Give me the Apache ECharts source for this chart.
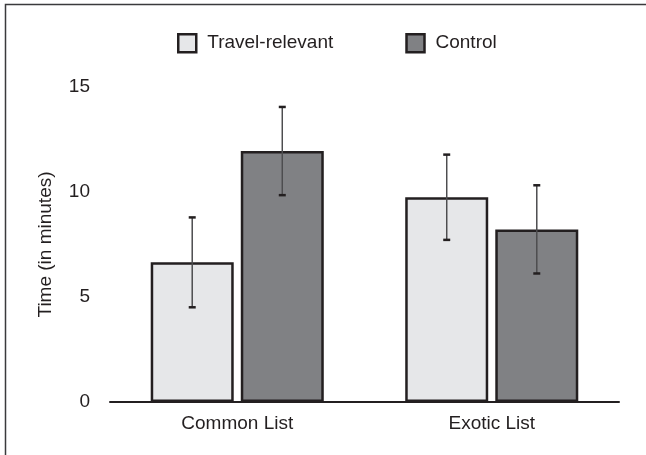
<!DOCTYPE html>
<html>
<head>
<meta charset="utf-8">
<script src="https://cdn.jsdelivr.net/npm/echarts@6/dist/echarts.min.js"></script>
<style>
  html, body { margin: 0; padding: 0; background: #fff; }
  #chart { width: 646px; height: 455px; }
</style>
</head>
<body>
<div id="chart"></div>
<script>
// 数据
const categories = ['Common List', 'Exotic List'];
const seriesNames = ['Travel-relevant', 'Control'];
const travelMean = [6.65, 9.75];
const travelErr = [2.14, 2.03];
const controlMean = [11.95, 8.22];
const controlErr = [2.1, 2.1];
const yTicks = [0, 5, 10, 15];

const barCatGap = 0.32;
const barGapRatio = 0.085;

// 误差线
function errorSeries(means, errs, side) {
    return {
        type: 'custom',
        z: 10,
        data: means.map((m, i) => [i, m - errs[i], m + errs[i]]),
        renderItem: (params, api) => {
            const band = api.size([1, 0])[0];
            const barW = band * (1 - barCatGap) / (2 + barGapRatio);
            const off = side * (barW + barW * barGapRatio) / 2;
            const lo = api.coord([api.value(0), api.value(1)]);
            const hi = api.coord([api.value(0), api.value(2)]);
            const x = lo[0] + off;
            const cap = 3.5;
            return {
                type: 'group',
                children: [
                    { type: 'line', shape: { x1: x, y1: lo[1], x2: x, y2: hi[1] },
                      style: { stroke: '#4d4d4f', lineWidth: 1.5 } },
                    { type: 'line', shape: { x1: x - cap, y1: hi[1], x2: x + cap, y2: hi[1] },
                      style: { stroke: '#231f20', lineWidth: 2.5 } },
                    { type: 'line', shape: { x1: x - cap, y1: lo[1], x2: x + cap, y2: lo[1] },
                      style: { stroke: '#231f20', lineWidth: 2.5 } }
                ]
            };
        }
    };
}

const chart = echarts.init(document.getElementById('chart'));
const font = 'Liberation Sans, Arial, sans-serif';

chart.setOption({
    animation: false,
    graphic: [{
        type: 'rect',
        shape: { x: 5.5, y: 4.5, width: 700, height: 600 },
        style: { fill: 'none', stroke: '#3a3a3c', lineWidth: 1.5 }
    }],
    legend: {
        left: 172,
        top: 28,
        itemWidth: 18,
        itemHeight: 18,
        itemGap: 72,
        icon: 'rect',
        data: seriesNames,
        itemStyle: { borderColor: '#231f20', borderWidth: 2.5 },
        textStyle: { fontFamily: font, fontSize: 19, color: '#231f20', padding: [0, 0, 0, 6] }
    },
    grid: { left: 110, right: 27, top: 87, bottom: 53 },
    xAxis: {
        type: 'category',
        data: categories,
        axisLine: { lineStyle: { color: '#231f20', width: 2 } },
        axisTick: { show: false },
        axisLabel: { fontFamily: font, fontSize: 19, color: '#231f20', margin: 12 }
    },
    yAxis: {
        type: 'value',
        min: yTicks[0],
        max: yTicks[yTicks.length - 1],
        interval: 5,
        name: 'Time (in minutes)',
        nameLocation: 'middle',
        nameGap: 55,
        nameTextStyle: { fontFamily: font, fontSize: 19, color: '#231f20' },
        axisLine: { show: false },
        axisTick: { show: false },
        splitLine: { show: false },
        axisLabel: { fontFamily: font, fontSize: 19, color: '#231f20', margin: 20 }
    },
    series: [
        {
            name: seriesNames[0],
            type: 'bar',
            data: travelMean,
            barCategoryGap: (barCatGap * 100) + '%',
            barGap: (barGapRatio * 100) + '%',
            itemStyle: { color: '#e6e7e9', borderColor: '#231f20', borderWidth: 2.5 }
        },
        {
            name: seriesNames[1],
            type: 'bar',
            data: controlMean,
            barCategoryGap: (barCatGap * 100) + '%',
            barGap: (barGapRatio * 100) + '%',
            itemStyle: { color: '#808184', borderColor: '#231f20', borderWidth: 2.5 }
        },
        errorSeries(travelMean, travelErr, -1),
        errorSeries(controlMean, controlErr, 1)
    ]
});
</script>
</body>
</html>
